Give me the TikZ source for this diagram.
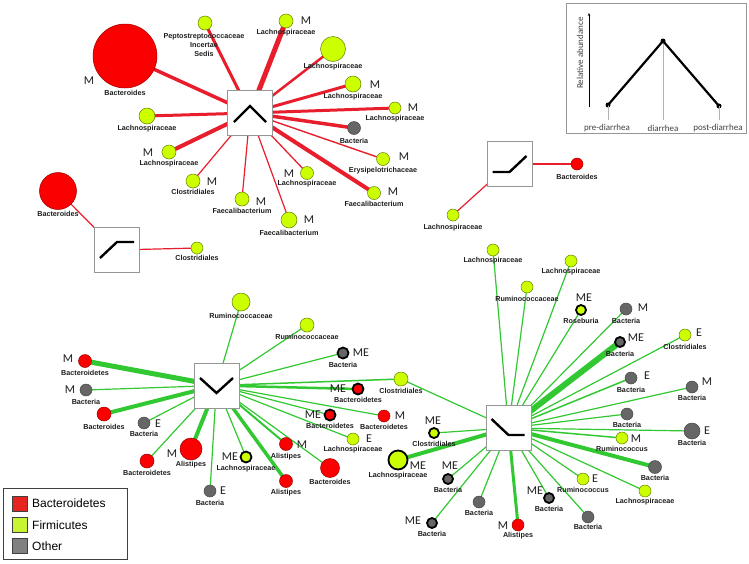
\documentclass[tikz,border=0pt]{standalone}
\usepackage{fontspec}
\setmainfont{Liberation Sans}
\newfontfamily\calfont{Carlito}
\usetikzlibrary{arrows.meta,calc}
\pgfdeclarelayer{bgfill}
\pgfdeclarelayer{bg}
\pgfsetlayers{bgfill,bg,main}
\definecolor{cRed}{RGB}{250,0,0}
\definecolor{cRedD}{RGB}{160,0,0}
\definecolor{cGrn}{RGB}{204,255,0}
\definecolor{cGrnD}{RGB}{100,125,0}
\definecolor{cGry}{RGB}{102,102,102}
\definecolor{cGryD}{RGB}{70,70,70}
\definecolor{cRedE}{RGB}{232,30,45}
\definecolor{cGrnE}{RGB}{50,200,50}
\definecolor{cBox}{RGB}{150,150,150}
\definecolor{cTxt}{RGB}{30,30,30}
\definecolor{cLeg}{RGB}{64,64,64}
\definecolor{lRed}{RGB}{230,35,30}
\definecolor{lGrn}{RGB}{200,245,50}
\definecolor{lGry}{RGB}{128,128,128}
\tikzset{
 hub/.style={draw=cBox, fill=white, line width=0.9pt, minimum size=45pt, inner sep=0pt},
 leaf/.style={circle, inner sep=0pt, line width=0.5pt},
 rd/.style={leaf, fill=cRed, draw=cRedD},
 gn/.style={leaf, fill=cGrn, draw=cGrnD},
 gy/.style={leaf, fill=cGry, draw=cGryD},
 me/.style={draw=black, line width=1.8pt},
 lbl/.style={font=\bfseries\fontsize{7.2}{9}\selectfont, text=cTxt, inner sep=0pt},
 tag/.style={font=\calfont\fontsize{12}{12}\selectfont, text=cTxt, inner sep=0pt},
 re/.style={draw=cRedE},
 ge/.style={draw=cGrnE},
 glyph/.style={draw=black, line width=2.4pt, line join=miter},
 dot/.style={circle, fill=black, inner sep=0pt, minimum size=5pt},
 axtxt/.style={font=\calfont\fontsize{9}{9}\selectfont, text=cLeg, inner sep=0pt},
 sq/.style={draw=cLeg, line width=0.8pt, minimum size=15pt, inner sep=0pt},
 legtxt/.style={font=\fontsize{12}{12}\selectfont, text=black, inner sep=0pt, anchor=west},
}
\newcommand\lf[7]{\node[#2, minimum size=#3pt] (#1) at (#4,#5) {}; \node[lbl] (#1l) at (#4,#7) {#6};}
\newcommand\tg[4]{\node[tag] (#1t) at (#2,#3) {#4};}
\newcommand\ed[4]{\draw[#1, line width=#4pt] (#2.center) -- (#3.center);}
\begin{document}
\begin{tikzpicture}[x=1pt,y=-1pt]
\useasboundingbox (0,0) rectangle (749,563);
\begin{pgfonlayer}{bgfill}
\fill[white] (0,0) rectangle (749,563);
\end{pgfonlayer}

% ---------- top-left cluster ----------
\node[hub] (h1) at (250,113) {};
\draw[glyph] ($(h1.center)+(-16,9)$) -- ++(16,-16) -- ++(16,16);
\lf{n1}{rd}{64}{125}{56}{Bacteroides}{93}
\node[gn, minimum size=14pt] (n2) at (205,23) {};
\node[lbl, align=center] (n2l) at (204,45) {Peptostreptococcaceae\\Incertae\\Sedis};
\lf{n3}{gn}{16}{147}{116}{Lachnospiraceae}{129}
\lf{n4}{gn}{14}{169}{152}{Lachnospiraceae}{164}
\lf{n5}{gn}{14}{193}{181}{Clostridiales}{192}
\lf{n6}{gn}{14}{242}{199}{Faecalibacterium}{211}
\lf{n7}{gn}{16}{289}{220}{Faecalibacterium}{233}
\lf{n8}{gn}{13}{307}{173}{Lachnospiraceae}{184}
\lf{n9}{gn}{13}{374}{193}{Faecalibacterium}{204}
\lf{n10}{gn}{13}{383}{159}{Erysipelotrichaceae}{171}
\lf{n11}{gy}{13}{354}{128}{Bacteria}{141}
\lf{n12}{gn}{12}{395}{108}{Lachnospiraceae}{119}
\lf{n13}{gn}{16}{353}{84}{Lachnospiraceae}{97}
\lf{n14}{gn}{25}{333}{49}{Lachnospiraceae}{67}
\lf{n15}{gn}{14}{286}{21}{Lachnospiraceae}{33}
\tg{n1}{89}{81}{M}
\tg{n4}{148}{153}{M}
\tg{n5}{212}{182}{M}
\tg{n6}{261}{202}{M}
\tg{n7}{309}{220}{M}
\tg{n8}{289}{174}{M}
\tg{n9}{393}{192}{M}
\tg{n10}{404}{157}{M}
\tg{n12}{413}{108}{M}
\tg{n13}{375}{85}{M}
\tg{n15}{306}{21}{M}

% ---------- left small cluster ----------
\node[hub] (h2) at (116.5,250) {};
\draw[glyph] ($(h2.center)+(-16.5,8)$) -- ++(17,-16) -- ++(17,0);
\lf{m1}{rd}{37}{58}{191}{Bacteroides}{214}
\lf{m2}{gn}{12}{197}{248}{Clostridiales}{258}

% ---------- middle-right small cluster ----------
\node[hub] (h3) at (509.5,164) {};
\draw[glyph] ($(h3.center)+(-17,8)$) -- ++(17,0) -- ++(17,-16);
\lf{k1}{rd}{12}{577}{164}{Bacteroides}{177}
\lf{k2}{gn}{12}{453}{215}{Lachnospiraceae}{228}

% ---------- bottom-left cluster ----------
\node[hub] (h4) at (216.5,385.5) {};
\draw[glyph] ($(h4.center)+(-16.5,-7.5)$) -- ++(16.5,15) -- ++(16.5,-15);
\lf{a}{rd}{13}{85}{361}{Bacteroidetes}{373}
\lf{b}{gy}{12}{86}{390}{Bacteria}{402}
\lf{c}{rd}{14}{104}{414}{Bacteroides}{427}
\lf{d}{gy}{12}{144}{423}{Bacteria}{434}
\lf{e}{rd}{14}{147}{461}{Bacteroidetes}{473}
\lf{f}{rd}{22}{191}{449}{Alistipes}{465}
\lf{g}{gn,me}{11}{246}{457}{Lachnospiraceae}{469}
\lf{h}{gy}{12}{210}{491}{Bacteria}{503}
\lf{i}{rd}{13}{286}{481}{Alistipes}{493}
\lf{j}{rd}{13}{286}{444}{Alistipes}{457}
\lf{k}{rd}{19}{330}{468}{Bacteroides}{482}
\lf{l}{gn}{12}{353}{439}{Lachnospiraceae}{450}
\lf{m}{rd,me}{11}{330}{415}{Bacteroidetes}{426}
\lf{n}{rd}{12}{384}{416}{Bacteroidetes}{427}
\lf{o}{rd,me}{11}{358}{389}{Bacteroidetes}{400}
\lf{p}{gn}{14}{401}{379}{Clostridiales}{391}
\lf{q}{gy,me}{11}{343}{353}{Bacteria}{365}
\lf{r}{gn}{14}{307}{325}{Ruminococcaceae}{337}
\lf{s}{gn}{18}{241}{302}{Ruminococcaceae}{316}
\tg{a}{68}{359}{M}
\tg{b}{70}{390}{M}
\tg{d}{158}{424}{E}
\tg{f}{172}{454}{M}
\tg{g}{230}{457}{ME}
\tg{h}{223}{491}{E}
\tg{j}{302}{445}{M}
\tg{l}{369}{439}{E}
\tg{m}{313}{415}{ME}
\tg{n}{400}{416}{M}
\tg{o}{338}{389}{ME}
\tg{q}{361}{353}{ME}

% ---------- bottom-right cluster ----------
\node[hub] (h5) at (508.5,428) {};
\draw[glyph] ($(h5.center)+(-17,-9)$) -- ++(17,16) -- ++(16,0);
\lf{A}{gn}{12}{493}{250}{Lachnospiraceae}{261}
\lf{B}{gn}{12}{571}{261}{Lachnospiraceae}{272}
\lf{C}{gn}{12}{527}{287}{Ruminococcaceae}{299}
\lf{D}{gn,me}{10}{581}{310}{Roseburia}{321}
\lf{E}{gy}{12}{626}{309}{Bacteria}{321}
\lf{F}{gy,me}{10}{620}{342}{Bacteria}{354}
\lf{G}{gn}{12}{685}{335}{Clostridiales}{347}
\lf{H}{gy}{12}{631}{378}{Bacteria}{390}
\lf{I}{gy}{12}{692}{387}{Bacteria}{398}
\lf{J}{gy}{12}{627}{414}{Bacteria}{425}
\lf{K}{gy}{16}{692}{431}{Bacteria}{443}
\lf{L}{gn}{12}{622}{438}{Ruminococcus}{449}
\lf{M}{gy}{13}{655}{467}{Bacteria}{478}
\lf{N}{gn}{12}{645}{491}{Lachnospiraceae}{502}
\lf{O}{gn}{12}{583}{479}{Ruminococcus}{490}
\lf{P}{gy}{12}{588}{517}{Bacteria}{527}
\lf{Q}{gy,me}{10}{549}{498}{Bacteria}{509}
\lf{R}{rd}{12}{518}{525}{Alistipes}{536}
\lf{S}{gy}{12}{479}{502}{Bacteria}{513}
\lf{T}{gy,me}{10}{432}{523}{Bacteria}{534}
\lf{U}{gy,me}{10}{448}{479}{Bacteria}{490}
\lf{V}{gn,me}{19}{398}{460}{Lachnospiraceae}{476}
\lf{W}{gn,me}{10}{434}{433}{Clostridiales}{444}
\tg{D}{584}{298}{ME}
\tg{E}{643}{308}{M}
\tg{F}{636}{338}{ME}
\tg{G}{699}{333}{E}
\tg{H}{647}{376}{E}
\tg{I}{707}{382}{M}
\tg{K}{707}{431}{E}
\tg{L}{636}{439}{M}
\tg{O}{595}{479}{E}
\tg{Q}{535}{491}{ME}
\tg{R}{503}{526}{M}
\tg{T}{413}{521}{ME}
\tg{U}{450}{466}{ME}
\tg{V}{418}{466}{ME}
\tg{W}{433}{421}{ME}

% ---------- edges ----------
\begin{pgfonlayer}{bg}
\ed{re}{h1}{n1}{3.5}
\ed{re}{h1}{n2}{3}
\ed{re}{h1}{n3}{3}
\ed{re}{h1}{n4}{4}
\ed{re}{h1}{n5}{1.2}
\ed{re}{h1}{n6}{1.2}
\ed{re}{h1}{n7}{1.2}
\ed{re}{h1}{n8}{1.3}
\ed{re}{h1}{n9}{4}
\ed{re}{h1}{n10}{1.4}
\ed{re}{h1}{n11}{3.5}
\ed{re}{h1}{n12}{3}
\ed{re}{h1}{n13}{3}
\ed{re}{h1}{n14}{2.5}
\ed{re}{h1}{n15}{5}
\ed{re}{h2}{m1}{1.2}
\ed{re}{h2}{m2}{1.2}
\ed{re}{h3}{k1}{1.2}
\ed{re}{h3}{k2}{1.2}
\ed{ge}{h4}{a}{5}
\ed{ge}{h4}{b}{1.2}
\ed{ge}{h4}{c}{4}
\ed{ge}{h4}{d}{1.2}
\ed{ge}{h4}{e}{1.2}
\ed{ge}{h4}{f}{4}
\ed{ge}{h4}{g}{1.2}
\ed{ge}{h4}{h}{1.2}
\ed{ge}{h4}{i}{3.5}
\ed{ge}{h4}{j}{2}
\ed{ge}{h4}{k}{1.2}
\ed{ge}{h4}{l}{1.2}
\ed{ge}{h4}{m}{1.2}
\ed{ge}{h4}{n}{1.2}
\ed{ge}{h4}{o}{2.5}
\ed{ge}{h4}{p}{1.5}
\ed{ge}{h4}{q}{1.2}
\ed{ge}{h4}{r}{1.2}
\ed{ge}{h4}{s}{1.2}
\ed{ge}{h5}{A}{1.2}
\ed{ge}{h5}{B}{1.2}
\ed{ge}{h5}{C}{1.2}
\ed{ge}{h5}{D}{1.2}
\ed{ge}{h5}{E}{1.2}
\ed{ge}{h5}{F}{6}
\ed{ge}{h5}{G}{1.2}
\ed{ge}{h5}{H}{1.5}
\ed{ge}{h5}{I}{1.2}
\ed{ge}{h5}{J}{1.2}
\ed{ge}{h5}{K}{1.2}
\ed{ge}{h5}{L}{1.5}
\ed{ge}{h5}{M}{4}
\ed{ge}{h5}{N}{1.2}
\ed{ge}{h5}{O}{1.2}
\ed{ge}{h5}{P}{1.2}
\ed{ge}{h5}{Q}{1.2}
\ed{ge}{h5}{R}{3}
\ed{ge}{h5}{S}{1.2}
\ed{ge}{h5}{T}{1.2}
\ed{ge}{h5}{U}{1.2}
\ed{ge}{h5}{V}{4}
\ed{ge}{h5}{W}{1.2}
\ed{ge}{h5}{p}{1.2}
\end{pgfonlayer}

% ---------- top-right key ----------
\node[draw=cBox, line width=0.9pt, fill=white, minimum width=180pt, minimum height=130pt, inner sep=0pt] (key) at (656,68) {};
\coordinate (axb) at (589,107);
\coordinate (axt) at (589,13);
\draw[-{Stealth[length=3pt,width=2.5pt]}, line width=0.5pt] (axb) -- (axt);
\node[axtxt, rotate=90] (ylab) at (580,53) {Relative abundance};
\node[dot] (pa) at (608,105) {};
\node[dot] (pb) at (663,41) {};
\node[dot] (pc) at (719,106) {};
\coordinate (qa) at (608,120);
\coordinate (qb) at (663,120);
\coordinate (qc) at (719,120);
\draw[black!30, line width=0.7pt] (pa.center) -- (qa) (pb.center) -- (qb) (pc.center) -- (qc);
\draw[black, line width=2.2pt] (pa.center) -- (pb.center) -- (pc.center);
\node[axtxt] (xa) at (607,128) {pre-diarrhea};
\node[axtxt] (xb) at (663,128) {diarrhea};
\node[axtxt] (xc) at (718,128) {post-diarrhea};

% ---------- bottom-left legend ----------
\node[draw=cLeg, line width=0.9pt, fill=white, minimum width=124pt, minimum height=71pt, inner sep=0pt] (leg) at (65,523.5) {};
\node[sq, fill=lRed] (s1) at (19.5,503.5) {};
\node[sq, fill=lGrn] (s2) at (19.5,525) {};
\node[sq, fill=lGry] (s3) at (19.5,546) {};
\node[legtxt] (t1) at (32,503.5) {Bacteroidetes};
\node[legtxt] (t2) at (32,525) {Firmicutes};
\node[legtxt] (t3) at (32,546) {Other};
\end{tikzpicture}
\end{document}
